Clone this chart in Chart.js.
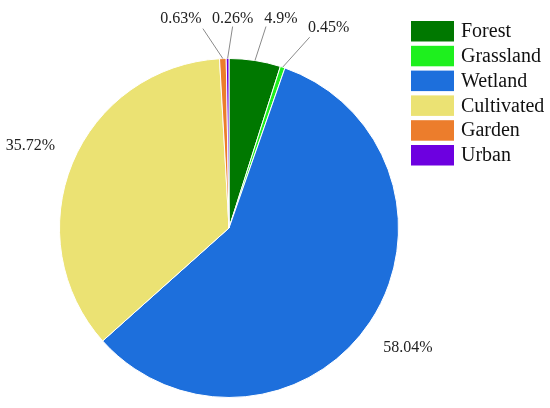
<!DOCTYPE html>
<html>
<head>
<meta charset="utf-8">
<script src="https://cdn.jsdelivr.net/npm/chart.js@4.4.1/dist/chart.umd.min.js"></script>
<style>
  html, body { margin: 0; padding: 0; background: #fff; }
  #wrap { width: 550px; height: 408px; }
</style>
</head>
<body>
<div id="wrap"><canvas id="pie" width="550" height="408"></canvas></div>
<script>
// land use classes and their shares (%)
const categories = ['Forest', 'Grassland', 'Wetland', 'Cultivated', 'Garden', 'Urban'];
const shares = [4.9, 0.45, 58.04, 35.72, 0.63, 0.26];
const pctLabels = ['4.9%', '0.45%', '58.04%', '35.72%', '0.63%', '0.26%'];
const colors = ['#007800', '#1ef01e', '#1d6fdc', '#ebe273', '#ec7d2c', '#6d00e0'];

// how each percentage label sits: radial for big slices, leader line for small ones
// (dx/dy are offsets of the elbow and text from the slice's outer edge point)
const labelStyle = [
    { line: [11, -34], text: [26, -42] },
    { line: [27, -30], text: [46, -39] },
    { radial: 215 },
    { radial: 215 },
    { line: [-20, -30], text: [-42, -40] },
    { line: [5, -32], text: [5, -40] }
];

const SERIF = '"Liberation Serif", "Times New Roman", serif';

const pieLabels = {
    id: 'pieLabels',
    afterDatasetsDraw(chart) {
        const ctx = chart.ctx;
        const arcs = chart.getDatasetMeta(0).data;
        ctx.save();
        ctx.font = '16px ' + SERIF;
        ctx.fillStyle = '#222';
        ctx.textAlign = 'center';
        ctx.textBaseline = 'middle';
        ctx.strokeStyle = '#8a8a8a';
        ctx.lineWidth = 1;
        arcs.forEach((arc, i) => {
            const p = arc.getProps(['x', 'y', 'startAngle', 'endAngle', 'outerRadius'], true);
            const mid = (p.startAngle + p.endAngle) / 2;
            const st = labelStyle[i];
            if (st.radial) {
                ctx.fillText(pctLabels[i], p.x + st.radial * Math.cos(mid), p.y + st.radial * Math.sin(mid));
            } else {
                const ex = p.x + p.outerRadius * Math.cos(mid);
                const ey = p.y + p.outerRadius * Math.sin(mid);
                ctx.beginPath();
                ctx.moveTo(ex, ey);
                ctx.lineTo(ex + st.line[0], ey + st.line[1]);
                ctx.stroke();
                ctx.fillText(pctLabels[i], ex + st.text[0], ey + st.text[1]);
            }
        });
        ctx.restore();
    }
};

const sideLegend = {
    id: 'sideLegend',
    afterDraw(chart) {
        const ctx = chart.ctx;
        ctx.save();
        ctx.font = '20px ' + SERIF;
        ctx.textBaseline = 'middle';
        categories.forEach((name, i) => {
            const y = 21 + i * 24.8;
            ctx.fillStyle = colors[i];
            ctx.fillRect(411, y, 43, 20.5);
            ctx.fillStyle = '#111';
            ctx.fillText(name, 461, y + 11);
        });
        ctx.restore();
    }
};

new Chart(document.getElementById('pie'), {
    type: 'pie',
    data: {
        labels: categories,
        datasets: [{
            data: shares,
            backgroundColor: colors,
            borderColor: '#ffffff',
            borderWidth: 1
        }]
    },
    options: {
        responsive: false,
        animation: false,
        layout: { padding: { left: 59, right: 151, top: 58, bottom: 10 } },
        plugins: {
            legend: { display: false },
            tooltip: { enabled: false }
        }
    },
    plugins: [pieLabels, sideLegend]
});
</script>
</body>
</html>
